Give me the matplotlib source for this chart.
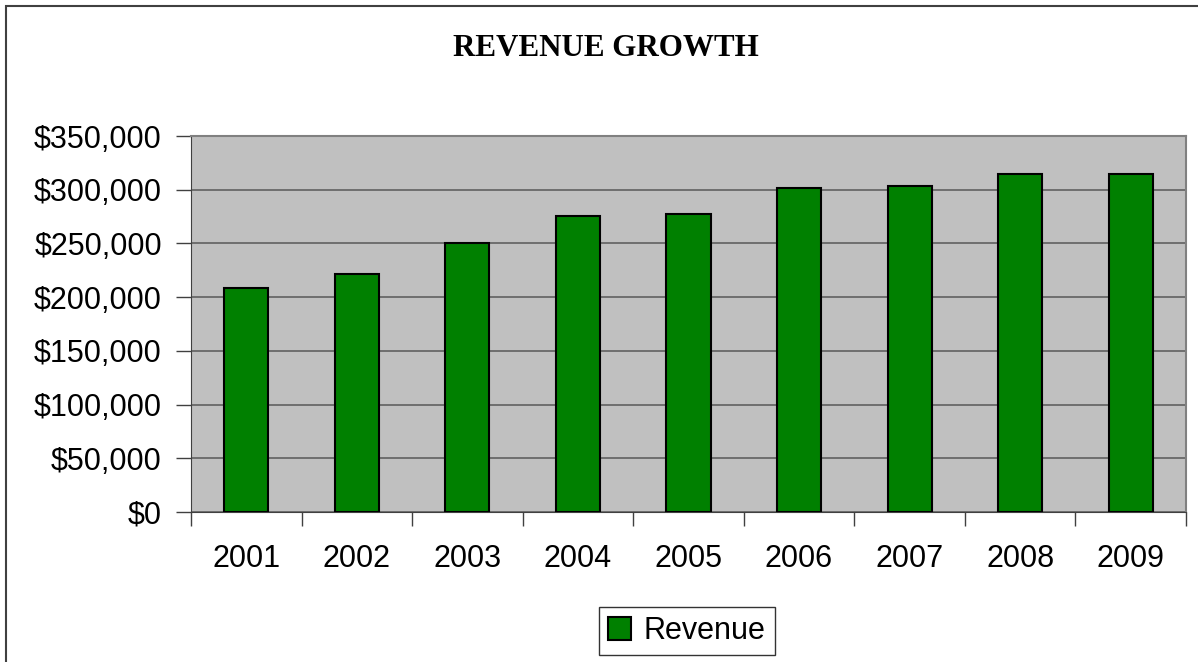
from matplotlib import pyplot as plt
from matplotlib.ticker import FuncFormatter, MultipleLocator
import numpy as np

# Data
years = ['2001', '2002', '2003', '2004', '2005', '2006', '2007', '2008', '2009']
revenue = [208500, 221500, 250000, 275500, 277500, 301500, 303500, 315000, 315000]

plt.rcParams['font.family'] = ['Liberation Sans', 'DejaVu Sans']

fig = plt.figure(figsize=(11.98, 6.62), dpi=100)
W, H = 1198.0, 662.0

# outer chart frame (only left and top edges visible in the picture)
frame = plt.Rectangle((6 / W, -0.1), 1.2, 1 - 6 / H + 0.1, transform=fig.transFigure,
                      fill=False, edgecolor='#404040', linewidth=1.5)
fig.patches.append(frame)

# plot area
ax = fig.add_axes([191 / W, 1 - 512 / H, (1186 - 191) / W, (512 - 136) / H])
ax.set_facecolor('#C0C0C0')

x = np.arange(len(years))
bars = ax.bar(x, revenue, width=0.4, color='#008000', edgecolor='black',
              linewidth=1.5, label='Revenue', zorder=3)

ax.set_xlim(-0.5, len(years) - 0.5)
ax.set_ylim(0, 350000)
ax.yaxis.set_major_locator(MultipleLocator(50000))
ax.yaxis.set_major_formatter(FuncFormatter(lambda v, p: '${:,.0f}'.format(v)))
ax.grid(axis='y', color='#606060', linewidth=1.2, zorder=1)

# x: tick marks at category boundaries, labels at centres
ax.set_xticks(np.arange(-0.5, len(years), 1.0))
ax.set_xticklabels([])
ax.set_xticks(x, minor=True)
ax.set_xticklabels(years, minor=True)
ax.tick_params(axis='x', which='major', length=10, width=1, color='#404040', direction='out')
ax.tick_params(axis='x', which='minor', length=0, pad=23, labelsize=22)
ax.tick_params(axis='y', length=11, width=1, color='#404040', pad=10, labelsize=22)

for s in ['top', 'right']:
    ax.spines[s].set_color('#808080')
    ax.spines[s].set_linewidth(1.5)
ax.spines['left'].set_color('#404040')
ax.spines['bottom'].set_color('#404040')

fig.text(606 / W, 1 - 49 / H, 'REVENUE GROWTH', ha='center', va='center',
         fontsize=22.3, fontweight='bold', family=['Liberation Serif', 'DejaVu Serif'])

leg = fig.legend(handles=[bars], labels=['Revenue'], loc='center',
                 bbox_to_anchor=(687 / W, 1 - 631 / H), fontsize=22,
                 frameon=True, fancybox=False, edgecolor='black',
                 handlelength=0.75, handleheight=0.75, handletextpad=0.4,
                 borderpad=0.3, borderaxespad=0)
leg.get_frame().set_linewidth(1)

plt.savefig('out.png', dpi=100)
